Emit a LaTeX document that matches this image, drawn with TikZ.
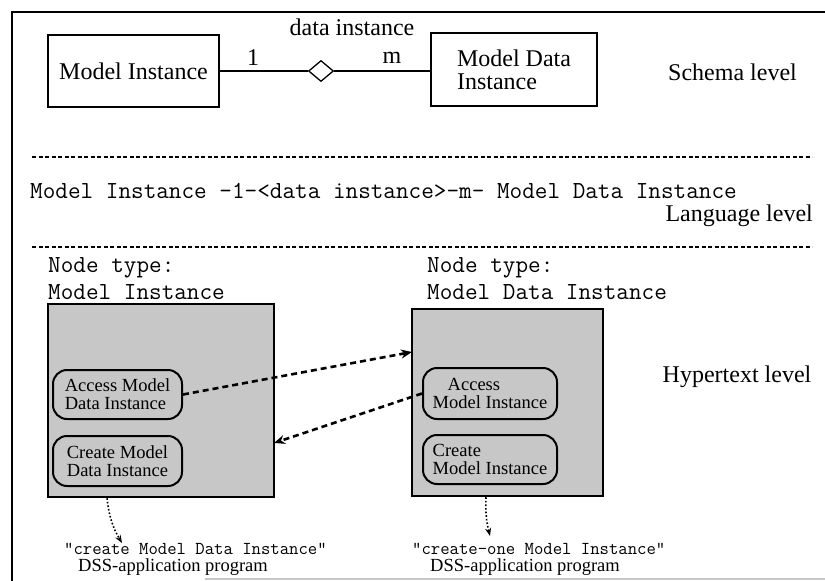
\documentclass[tikz,border=0pt]{standalone}
\usepackage{fontspec}
\setmainfont{Liberation Serif}
\usetikzlibrary{arrows.meta,shapes.geometric}

\tikzset{
  serif/.style={font=\fontsize{24}{23}\selectfont, inner sep=0pt},
  small/.style={font=\fontsize{18.5}{18}\selectfont, inner sep=0pt},
  code/.style={font=\ttfamily\fontsize{24.5}{26}\selectfont, inner sep=0pt, anchor=west},
  smallcode/.style={font=\ttfamily\fontsize{18.2}{20}\selectfont, inner sep=0pt, anchor=west},
  entity/.style={draw, line width=1.5pt, serif},
  relship/.style={draw, diamond, line width=1.3pt, inner sep=0pt, minimum width=25pt, minimum height=21pt},
  page/.style={draw, line width=2.5pt, fill=black!22},
  anchorbox/.style={draw, line width=2pt, rounded corners=14pt, fill=black!22, small},
  separator/.style={line width=1.5pt, dash pattern=on 4pt off 2.5pt},
  link/.style={line width=2.6pt, dash pattern=on 6pt off 4pt, -{Stealth[open, length=11pt, width=9pt, line width=1.8pt]}},
  calls/.style={line width=1.6pt, dotted, -{Stealth[length=8pt, width=6pt]}},
  frame/.style={line width=2pt}
}

\begin{document}
\begin{tikzpicture}[x=1pt, y=-1pt]
\useasboundingbox (0,0) rectangle (825,581);

% outer frame
\draw[frame] (825,12) -- (12,12) -- (12,581);
\draw[line width=1.5pt, black!22] (205,579) -- (825,579);

% ---- schema level: ER fragment ----
\node[entity, minimum width=171pt, minimum height=72pt] (mi) at (133.5,71) {Model Instance};
\node[entity, minimum width=166pt, minimum height=73pt, align=left] (mdi) at (514,69.5) {Model Data\\Instance};
\node[relship] (rel) at (321,71) {};
\draw[line width=1.3pt] (mi.east |- rel.west) -- (rel.west);
\draw[line width=1.3pt] (rel.east) -- (rel.east -| mdi.west);
\node[serif] (card1) at (253,58) {1};
\node[serif] (cardm) at (392,58) {m};
\node[serif] (relname) at (352,27) {data instance};
\node[serif] (schema) at (732.5,72) {Schema level};

% level separators
\draw[separator] (32,157) -- (812,157);
\draw[separator] (32,247) -- (812,247);

% ---- language level ----
\node[code] (lang) at (30,191) {Model Instance -1-<data instance>-m- Model Data Instance};
\node[serif, anchor=east] (langlvl) at (813,216) {Language level};

% ---- hypertext level ----
\node[code] (nt1) at (48,268) {Node type:};
\node[code] (nn1) at (48,292) {Model Instance};
\node[code] (nt2) at (427,268) {Node type:};
\node[code] (nn2) at (427,292) {Model Data Instance};
\node[serif] (hyper) at (737,377) {Hypertext level};

\node[page, minimum width=226pt, minimum height=193pt] (pmi) at (161,400.5) {};
\node[page, minimum width=191pt, minimum height=187pt] (pmdi) at (507.5,402.5) {};

\node[anchorbox, minimum width=129pt, minimum height=49pt, align=left] (acc1) at (117.5,394.5) {Access Model\\Data Instance};
\node[anchorbox, minimum width=129pt, minimum height=50pt, align=left] (cre1) at (117.5,461) {Create Model\\Data Instance};
\node[anchorbox, minimum width=134pt, minimum height=51pt, align=left] (acc2) at (490,393.5) {\hspace*{15pt}Access\\Model Instance};
\node[anchorbox, minimum width=134pt, minimum height=49pt, align=left] (cre2) at (490,459.5) {Create\\Model Instance};

\coordinate (in2) at (412,352);
\coordinate (in1) at (274,443);
\draw[link] (acc1.east) -- (in2);
\draw[link] (acc2.west) -- (in1);

% application programs
\node[smallcode] (prog1) at (64,549) {"create Model Data Instance"};
\node[small, anchor=west] (dss1) at (78,567) {DSS-application program};
\node[smallcode] (prog2) at (412,549) {"create-one Model Instance"};
\node[small, anchor=west] (dss2) at (430,567) {DSS-application program};

\draw[calls] (pmi.south -| 107,0) to[bend right=12] (prog1.north -| 122,0);
\draw[calls] (pmdi.south -| 486,0) to[bend right=8] (490,536);
\end{tikzpicture}
\end{document}
